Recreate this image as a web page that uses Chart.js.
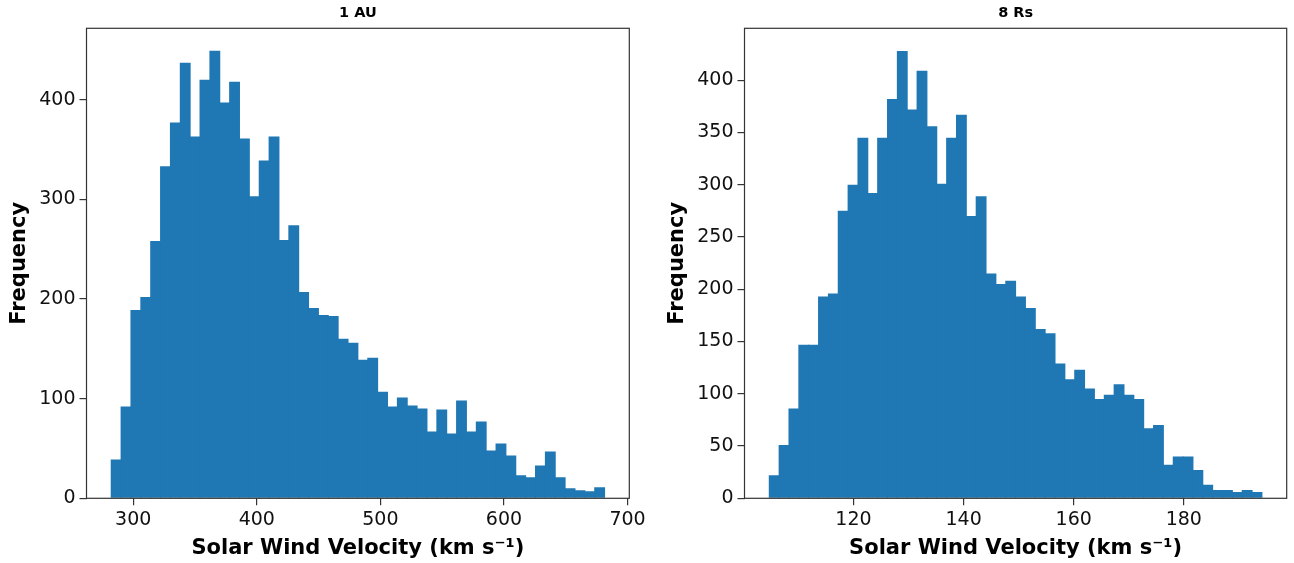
<!DOCTYPE html>
<html>
<head>
<meta charset="utf-8">
<script src="https://cdn.jsdelivr.net/npm/chart.js@4.4.1/dist/chart.umd.min.js"></script>
<style>
  html, body { margin: 0; padding: 0; background: #fff; }
  body { width: 1294px; height: 563px; position: relative; overflow: hidden; }
  .panel { position: absolute; top: 0; height: 563px; }
  #p1 { left: 0; width: 657px; }
  #p2 { left: 658px; width: 636px; }
</style>
</head>
<body>
<div class="panel" id="p1"><canvas id="c1"></canvas></div>
<div class="panel" id="p2"><canvas id="c2"></canvas></div>
<script>
// ---- Data ----
const titles = ['1 AU', '8 Rs'];
const xAxisTitle = 'Solar Wind Velocity (km s\u207B\u00B9)';
const yAxisTitle = 'Frequency';

// 1 AU histogram: 50 bins
const auBinRange = [282.2, 681.4];
const auCounts = [39, 92, 189, 202, 258, 333, 377, 437, 363, 420,
                  449, 397, 418, 361, 303, 339, 363, 259, 274, 207,
                  191, 184, 183, 160, 156, 139, 141, 107, 92, 101,
                  93, 90, 67, 89, 65, 98, 67, 77, 48, 55,
                  43, 23, 21, 33, 47, 21, 10, 8, 7, 11];
const auXRange = [262.2, 701.4];
const auYMax = 471.5;
const auXTicks = [300, 400, 500, 600, 700];
const auYTicks = [0, 100, 200, 300, 400];

// 8 Rs histogram: 50 bins
const rsBinRange = [104.7, 194.2];
const rsCounts = [22, 51, 86, 147, 147, 193, 196, 275, 300, 345,
                  292, 345, 382, 428, 372, 409, 356, 301, 345, 367,
                  270, 289, 215, 205, 208, 193, 182, 162, 158, 129,
                  114, 123, 105, 95, 99, 109, 99, 95, 67, 70,
                  32, 40, 40, 27, 13, 8, 8, 6, 8, 6];
const rsXRange = [100.2, 198.7];
const rsYMax = 449.6;
const rsXTicks = [120, 140, 160, 180];
const rsYTicks = [0, 50, 100, 150, 200, 250, 300, 350, 400];

// ---- Helpers ----
function histPoints(range, counts) {
  const w = (range[1] - range[0]) / counts.length;
  return counts.map((c, i) => ({ x: range[0] + (i + 0.5) * w, y: c }));
}

const FONT = 'DejaVu Sans';
const frame = {
  id: 'frame',
  afterDatasetsDraw(chart) {
    const a = chart.chartArea, ctx = chart.ctx;
    ctx.save();
    ctx.strokeStyle = '#333';
    ctx.lineWidth = 1.2;
    ctx.strokeRect(a.left, a.top, a.right - a.left, a.bottom - a.top);
    ctx.restore();
  }
};

function makeChart(id, title, range, counts, xRange, yMax, xTicks, yTicks, padRight) {
  return new Chart(document.getElementById(id), {
    type: 'bar',
    data: {
      datasets: [{
        data: histPoints(range, counts),
        backgroundColor: '#1f77b4',
        borderWidth: 0,
        barPercentage: 1.1,
        categoryPercentage: 1
      }]
    },
    plugins: [frame],
    options: {
      responsive: true,
      maintainAspectRatio: false,
      animation: false,
      layout: { padding: { left: 0, right: padRight, top: 0, bottom: 0 } },
      plugins: {
        legend: { display: false },
        tooltip: { enabled: false },
        title: {
          display: true,
          text: title,
          fullSize: false,
          color: '#000',
          font: { family: FONT, size: 14.5, weight: 'bold' },
          padding: { top: 5, bottom: 5.9 }
        }
      },
      scales: {
        x: {
          type: 'linear',
          offset: false,
          min: xRange[0],
          max: xRange[1],
          afterBuildTicks: s => { s.ticks = xTicks.map(v => ({ value: v })); },
          afterFit: s => { s.height = 64.7; },
          border: { display: false },
          grid: { display: true, offset: false, drawOnChartArea: false, drawTicks: true, tickLength: 7, color: '#333', lineWidth: 1.2 },
          ticks: {
            autoSkip: false,
            maxRotation: 0,
            color: '#111',
            padding: 3,
            font: { family: FONT, size: 19 }
          },
          title: {
            display: true,
            text: xAxisTitle,
            color: '#000',
            font: { family: FONT, size: 21, weight: 'bold' },
            padding: { top: 0, bottom: 2 }
          }
        },
        y: {
          min: 0,
          max: yMax,
          afterBuildTicks: s => { s.ticks = yTicks.map(v => ({ value: v })); },
          afterFit: s => { s.width = 86.5; },
          border: { display: false },
          grid: { display: true, drawOnChartArea: false, drawTicks: true, tickLength: 7, color: '#333', lineWidth: 1.2 },
          ticks: {
            autoSkip: false,
            color: '#111',
            padding: 4,
            font: { family: FONT, size: 19 }
          },
          title: {
            display: true,
            text: yAxisTitle,
            color: '#000',
            font: { family: FONT, size: 21, weight: 'bold' },
            padding: { top: 7, bottom: 0 }
          }
        }
      }
    }
  });
}

makeChart('c1', titles[0], auBinRange, auCounts, auXRange, auYMax, auXTicks, auYTicks, 27.7);
makeChart('c2', titles[1], rsBinRange, rsCounts, rsXRange, rsYMax, rsXTicks, rsYTicks, 7.3);
</script>
</body>
</html>
